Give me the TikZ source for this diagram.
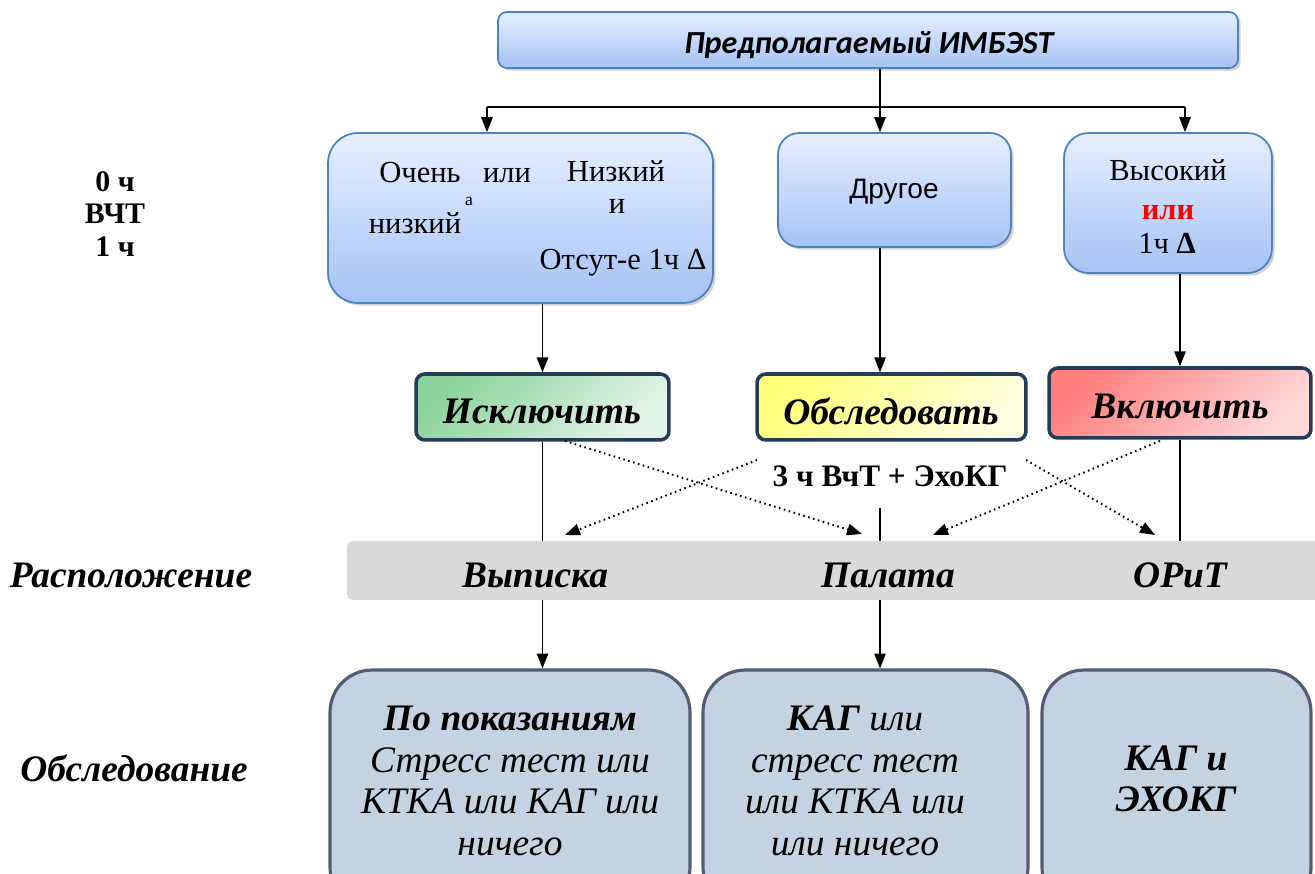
\documentclass[tikz,border=0pt]{standalone}
\usepackage{fontspec}
\setmainfont{Liberation Serif}
\newfontfamily\calfont{Carlito}
\newfontfamily\arialfont{Liberation Sans}
\usetikzlibrary{arrows.meta,shadows}
\definecolor{boxline}{HTML}{4F81BD}
\definecolor{bluetop}{HTML}{E6EFFF}
\definecolor{bluebot}{HTML}{A5C3F5}
\definecolor{decline}{HTML}{263B57}
\definecolor{greendark}{HTML}{8CD39C}
\definecolor{greenlight}{HTML}{E2F4E8}
\definecolor{yellowdark}{HTML}{FFFF7A}
\definecolor{yellowlight}{HTML}{FFFFE2}
\definecolor{reddark}{HTML}{FF7F7F}
\definecolor{redlight}{HTML}{FFD8D8}
\definecolor{bandgray}{HTML}{D9D9D9}
\definecolor{testfill}{HTML}{C3D3E1}
\definecolor{testline}{HTML}{525C74}
\begin{document}
\begin{tikzpicture}[x=0.02cm,y=-0.02cm,
	riskbox/.style={draw=boxline,line width=1pt,top color=bluetop,bottom color=bluebot,
		drop shadow={shadow xshift=1.5pt,shadow yshift=-1.5pt,fill=black!35}},
	decbox/.style={draw=decline,line width=2pt,rounded corners=5pt,shading angle=45},
	testbox/.style={draw=testline,line width=1.8pt,fill=testfill,rounded corners=24pt},
	arr/.style={-{Triangle[length=8.5pt,width=6.5pt]},line width=0.9pt},
	dotarr/.style={arr,dotted,line width=1.1pt},
	txt/.style={font=\fontsize{17.4}{19}\selectfont,inner sep=0pt,anchor=base},
	dectxt/.style={font=\fontsize{21.3}{24}\selectfont\bfseries\itshape,inner sep=0pt},
	testtxt/.style={font=\fontsize{21.3}{23.6}\selectfont\itshape,align=center,inner sep=0pt}]
	\useasboundingbox (0,0) rectangle (1315,874);
	\clip (0,0) rectangle (1315,874);

	% risk level
	\node[riskbox,rounded corners=5pt,minimum width=14.8cm,minimum height=1.12cm] (top) at (868,40) {};
	\node[font=\calfont\fontsize{18.3}{20}\selectfont\bfseries\itshape] (toptxt) at (869,45) {Предполагаемый ИМБЭST};
	\node[riskbox,rounded corners=17pt,minimum width=7.7cm,minimum height=3.4cm] (box1) at (520.5,218) {};
	\node[riskbox,rounded corners=12pt,minimum width=4.66cm,minimum height=2.28cm] (box2) at (894.5,190) {};
	\node[riskbox,rounded corners=14pt,minimum width=4.16cm,minimum height=2.8cm] (box3) at (1168,203) {};

	\node[txt] (b1a) at (420,183) {Очень};
	\node[txt] (b1b) at (507,183) {или};
	\node[txt] (b1c) at (616,182) {Низкий};
	\node[txt,font=\fontsize{10}{12}\selectfont] (b1d) at (469,206) {а};
	\node[txt] (b1e) at (617,214) {и};
	\node[txt] (b1f) at (415,234) {низкий};
	\node[txt] (b1g) at (623,270) {Отсут-е 1ч Δ};
	\node[txt,anchor=center,font=\arialfont\fontsize{16}{18}\selectfont] (b2a) at (894,192) {Другое};
	\node[txt] (b3a) at (1168,181) {Высокий};
	\node[txt,text=red,font=\fontsize{17.4}{19}\selectfont\bfseries] (b3b) at (1168,220) {или};
	\node[txt] (b3c) at (1167,254) {1ч \textbf{Δ}};

	\node[font=\fontsize{17}{18.5}\selectfont\bfseries,align=center] (hours) at (115,214) {0 ч\\ВЧТ\\1 ч};

	% decision
	\node[decbox,top color=greendark,bottom color=greenlight,shading angle=45,minimum width=5.06cm,minimum height=1.32cm] (excl) at (542.5,407) {};
	\node[decbox,top color=yellowdark,bottom color=yellowlight,shading angle=45,minimum width=5.38cm,minimum height=1.32cm] (obsl) at (891.5,407) {};
	\node[decbox,top color=reddark,bottom color=redlight,shading angle=45,minimum width=5.24cm,minimum height=1.4cm] (incl) at (1180,403) {};
	\node[dectxt] (excltxt) at (542,411) {Исключить};
	\node[dectxt] (obsltxt) at (891,411) {Обследовать};
	\node[dectxt] (incltxt) at (1180,406) {Включить};
	\node[font=\fontsize{17.8}{19}\selectfont\bfseries,inner sep=0pt] (lbl) at (890,476) {3 ч ВчТ + ЭхоКГ};

	\coordinate (split) at (880,107);
	\coordinate (splitL) at (487,107);
	\coordinate (splitR) at (1185,107);
	\coordinate (midtop) at (880,508);
	\coordinate (d1s) at (565,441);
	\coordinate (d1e) at (862,534);
	\coordinate (d2s) at (757,460);
	\coordinate (d2e) at (565,535);
	\coordinate (d3s) at (1026,460);
	\coordinate (d3e) at (1155,535);
	\coordinate (d4s) at (1160,441);
	\coordinate (d4e) at (933,535);

	\draw[line width=.9pt] (top.south -| split) -- (split);
	\draw[line width=.9pt] (splitL) -- (splitR);
	\draw[arr] (splitL) -- (splitL |- box1.north);
	\draw[arr] (split) -- (split |- box2.north);
	\draw[arr] (splitR) -- (splitR |- box3.north);
	\draw[arr] (box1.south -| excl.north) -- (excl.north);
	\draw[arr] (box2.south -| split) -- (obsl.north -| split);
	\draw[arr] (box3.south -| incl.north) -- (incl.north);

	% disposition
	\node[fill=bandgray,rounded corners=3pt,minimum width=19.66cm,minimum height=1.18cm] (band) at (838.5,570.5) {};
	\draw[line width=.9pt] (excl.south) -- (excl.south |- band.north);
	\draw[line width=.9pt] (incl.south) -- (incl.south |- band.north);
	\draw[line width=.9pt] (midtop) -- (midtop |- band.north);
	\draw[dotarr] (d1s) -- (d1e);
	\draw[dotarr] (d2s) -- (d2e);
	\draw[dotarr] (d3s) -- (d3e);
	\draw[dotarr] (d4s) -- (d4e);
	\node[dectxt] (place) at (131,575) {Расположение};
	\node[dectxt] (vyp) at (535,575) {Выписка};
	\node[dectxt] (pal) at (888,575) {Палата};
	\node[dectxt] (orit) at (1180,575) {ОРиТ};

	% testing
	\node[testbox,minimum width=7.2cm,minimum height=4.8cm] (boxA) at (510,790) {};
	\node[testbox,minimum width=6.5cm,minimum height=4.8cm] (boxB) at (865.5,790) {};
	\node[testbox,minimum width=5.38cm,minimum height=4.8cm] (boxC) at (1176.5,790) {};
	\draw[arr] (band.south -| excl.south) -- (boxA.north -| excl.south);
	\draw[arr] (band.south -| split) -- (boxB.north -| split);
	\node[testtxt] (txtA) at (510,781) {\textbf{По показаниям}\\Стресс тест или\\КТКА или КАГ или\\ничего};
	\node[testtxt] (txtB) at (855,781) {\textbf{КАГ} или\\стресс тест\\или КТКА или\\или ничего};
	\node[testtxt,font=\fontsize{21.3}{23.6}\selectfont\bfseries\itshape] (txtC) at (1176,779) {КАГ и\\ЭХОКГ};
	\node[dectxt] (exam) at (134,768) {Обследование};
\end{tikzpicture}
\end{document}
